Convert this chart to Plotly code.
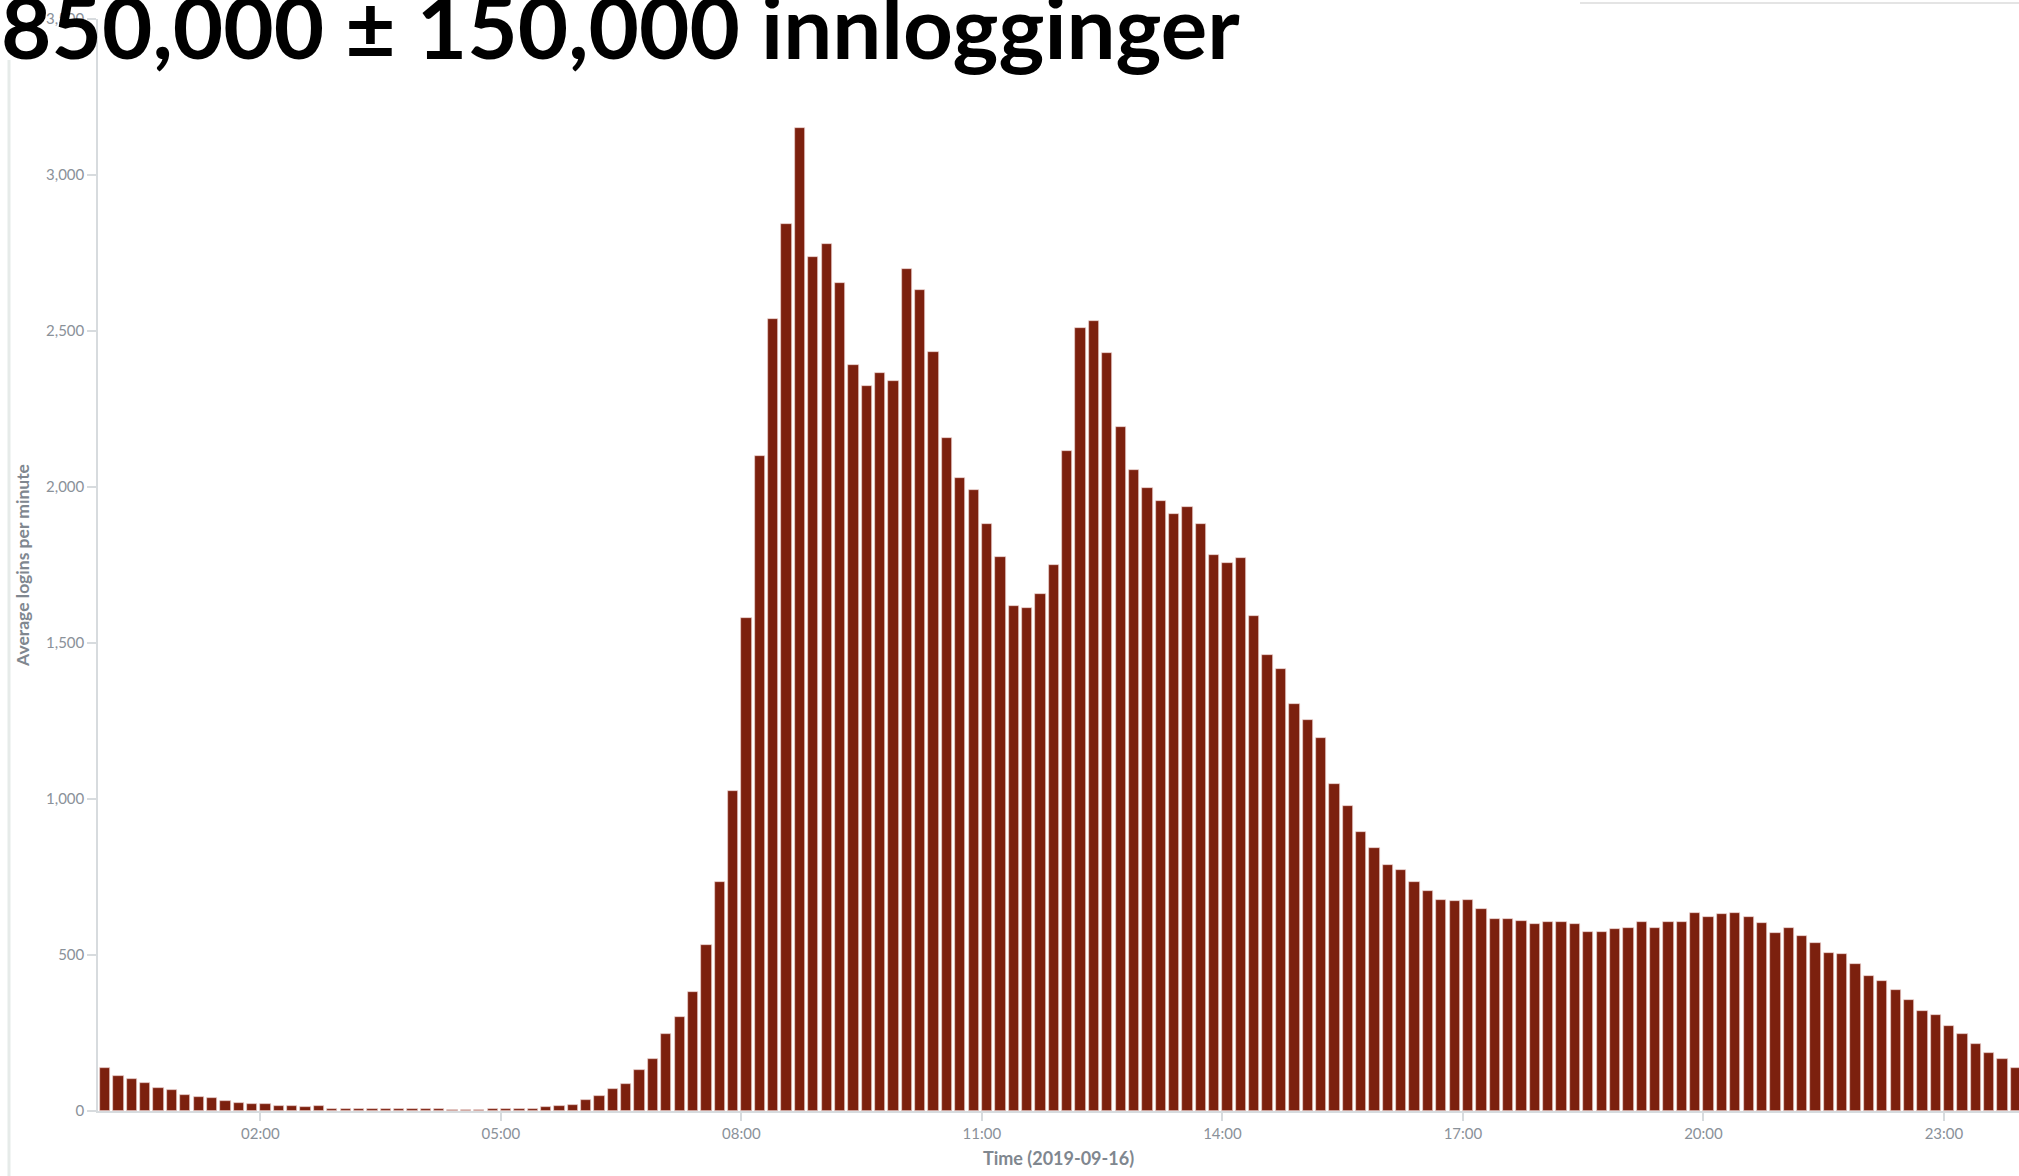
import plotly.graph_objects as go
import pandas as pd

# ---- data -------------------------------------------------------------
day = "2019-09-16"
bin_minutes = 10
# average logins per minute, one value per 10-minute bin starting 00:00
logins_night = [137, 112, 104, 90, 73, 67, 52, 46, 42, 33, 27, 23, 21, 17, 17, 12,
                15, 8, 8, 7, 7, 7, 6, 5, 5, 5, 4, 3, 4, 5, 6, 7, 8, 12, 15, 20,
                35, 48, 70, 85, 131, 167, 248, 302, 381, 533, 733, 1027]
logins_day = [1579, 2100, 2540, 2842, 3152, 2738, 2779, 2654, 2392, 2325, 2365, 2340,
              2700, 2631, 2433, 2156, 2029, 1992, 1881, 1777, 1619, 1613, 1658, 1750,
              2117, 2510, 2531, 2431, 2192, 2054, 1996, 1956, 1915, 1937, 1881, 1783,
              1758, 1771, 1588, 1462, 1417, 1304, 1252, 1194, 1048, 979]
logins_evening = [893, 842, 787, 771, 734, 706, 675, 674, 676, 646, 616, 617, 610, 600,
                  606, 606, 599, 575, 575, 583, 587, 607, 586, 606, 606, 634, 622, 631,
                  634, 622, 601, 569, 587, 561, 537, 507, 502, 472, 433, 417, 388, 356,
                  322, 307, 274, 246, 216, 187, 168, 137]
logins = logins_night + logins_day + logins_evening
times = pd.date_range(f"{day} 00:00", periods=len(logins), freq=f"{bin_minutes}min")

tick_labels = ["02:00", "05:00", "08:00", "11:00", "14:00", "17:00", "20:00", "23:00"]
y_ticks = [0, 500, 1000, 1500, 2000, 2500, 3000, 3500]

title_text = "850,000 ± 150,000 innlogginger"
y_title = "Average logins per minute"
x_title = f"Time ({day})"

# ---- styling ----------------------------------------------------------
W, H = 2019, 1176
ML, MR, MT, MB = 98, 0, 19, 65
bar_color = "#7c200e"
axis_grey = "#d7dbde"
label_grey = "#8a9199"
title_grey = "#80878f"

fig = go.Figure()
fig.add_trace(go.Bar(
    x=times,
    y=logins,
    width=bin_minutes * 60 * 1000 * 0.77,
    offset=0,
    marker=dict(color=bar_color, line=dict(color="#ead0cc", width=0.7)),
    hoverinfo="x+y",
))

fig.update_layout(
    width=W, height=H,
    autosize=False,
    margin=dict(l=ML, r=MR, t=MT, b=MB, pad=0),
    paper_bgcolor="white",
    plot_bgcolor="white",
    showlegend=False,
    bargap=0,
    font=dict(family="Lato, sans-serif", color=label_grey, size=15),
)

fig.update_xaxes(
    type="date",
    range=["2019-09-15 23:58:30", f"{day} 23:56:10"],
    tickvals=[f"{day} {t}" for t in tick_labels],
    ticktext=tick_labels,
    ticks="outside", ticklen=8, tickcolor=axis_grey, tickwidth=1.5,
    showline=True, linecolor=axis_grey, linewidth=2,
    showgrid=False, zeroline=False,
    tickfont=dict(family="Lato, sans-serif", size=15, color=label_grey),
    title=dict(text=f"<b>{x_title}</b>", standoff=11,
               font=dict(family="Lato, sans-serif", size=18, color=title_grey)),
)

fig.update_yaxes(
    range=[0, 3500],
    tickvals=y_ticks,
    tickformat=",d",
    ticks="outside", ticklen=9, tickcolor=axis_grey, tickwidth=1.5,
    showline=True, linecolor=axis_grey, linewidth=1.5,
    showgrid=False, zeroline=False,
    tickfont=dict(family="Lato, sans-serif", size=15, color=label_grey),
    title=dict(text=f"<b>{y_title}</b>", standoff=12,
               font=dict(family="Lato, sans-serif", size=17.5, color=title_grey)),
)

plot_w = W - ML - MR
plot_h = H - MT - MB

# big slide title, partially cut at the top edge
fig.add_annotation(
    text=f"<b>{title_text}</b>",
    xref="paper", yref="paper",
    x=-ML / plot_w, y=1 + (MT + 28) / plot_h,
    xanchor="left", yanchor="top",
    showarrow=False, borderpad=0,
    font=dict(family="Lato, sans-serif", size=87, color="#000000"),
)

# faint screenshot frame lines
fig.add_shape(type="line", xref="paper", yref="paper",
              x0=(9 - ML) / plot_w, x1=(9 - ML) / plot_w,
              y0=-MB / plot_h, y1=1 - (60 - MT) / plot_h,
              line=dict(color="#e6ebe9", width=3))
fig.add_shape(type="line", xref="paper", yref="paper",
              x0=(1580 - ML) / plot_w, x1=1.0,
              y0=1 + (MT - 3) / plot_h, y1=1 + (MT - 3) / plot_h,
              line=dict(color="#e4e4e4", width=2))

fig.write_html("out.html", config={"displayModeBar": False},
               post_script="document.body.style.margin='0';")
